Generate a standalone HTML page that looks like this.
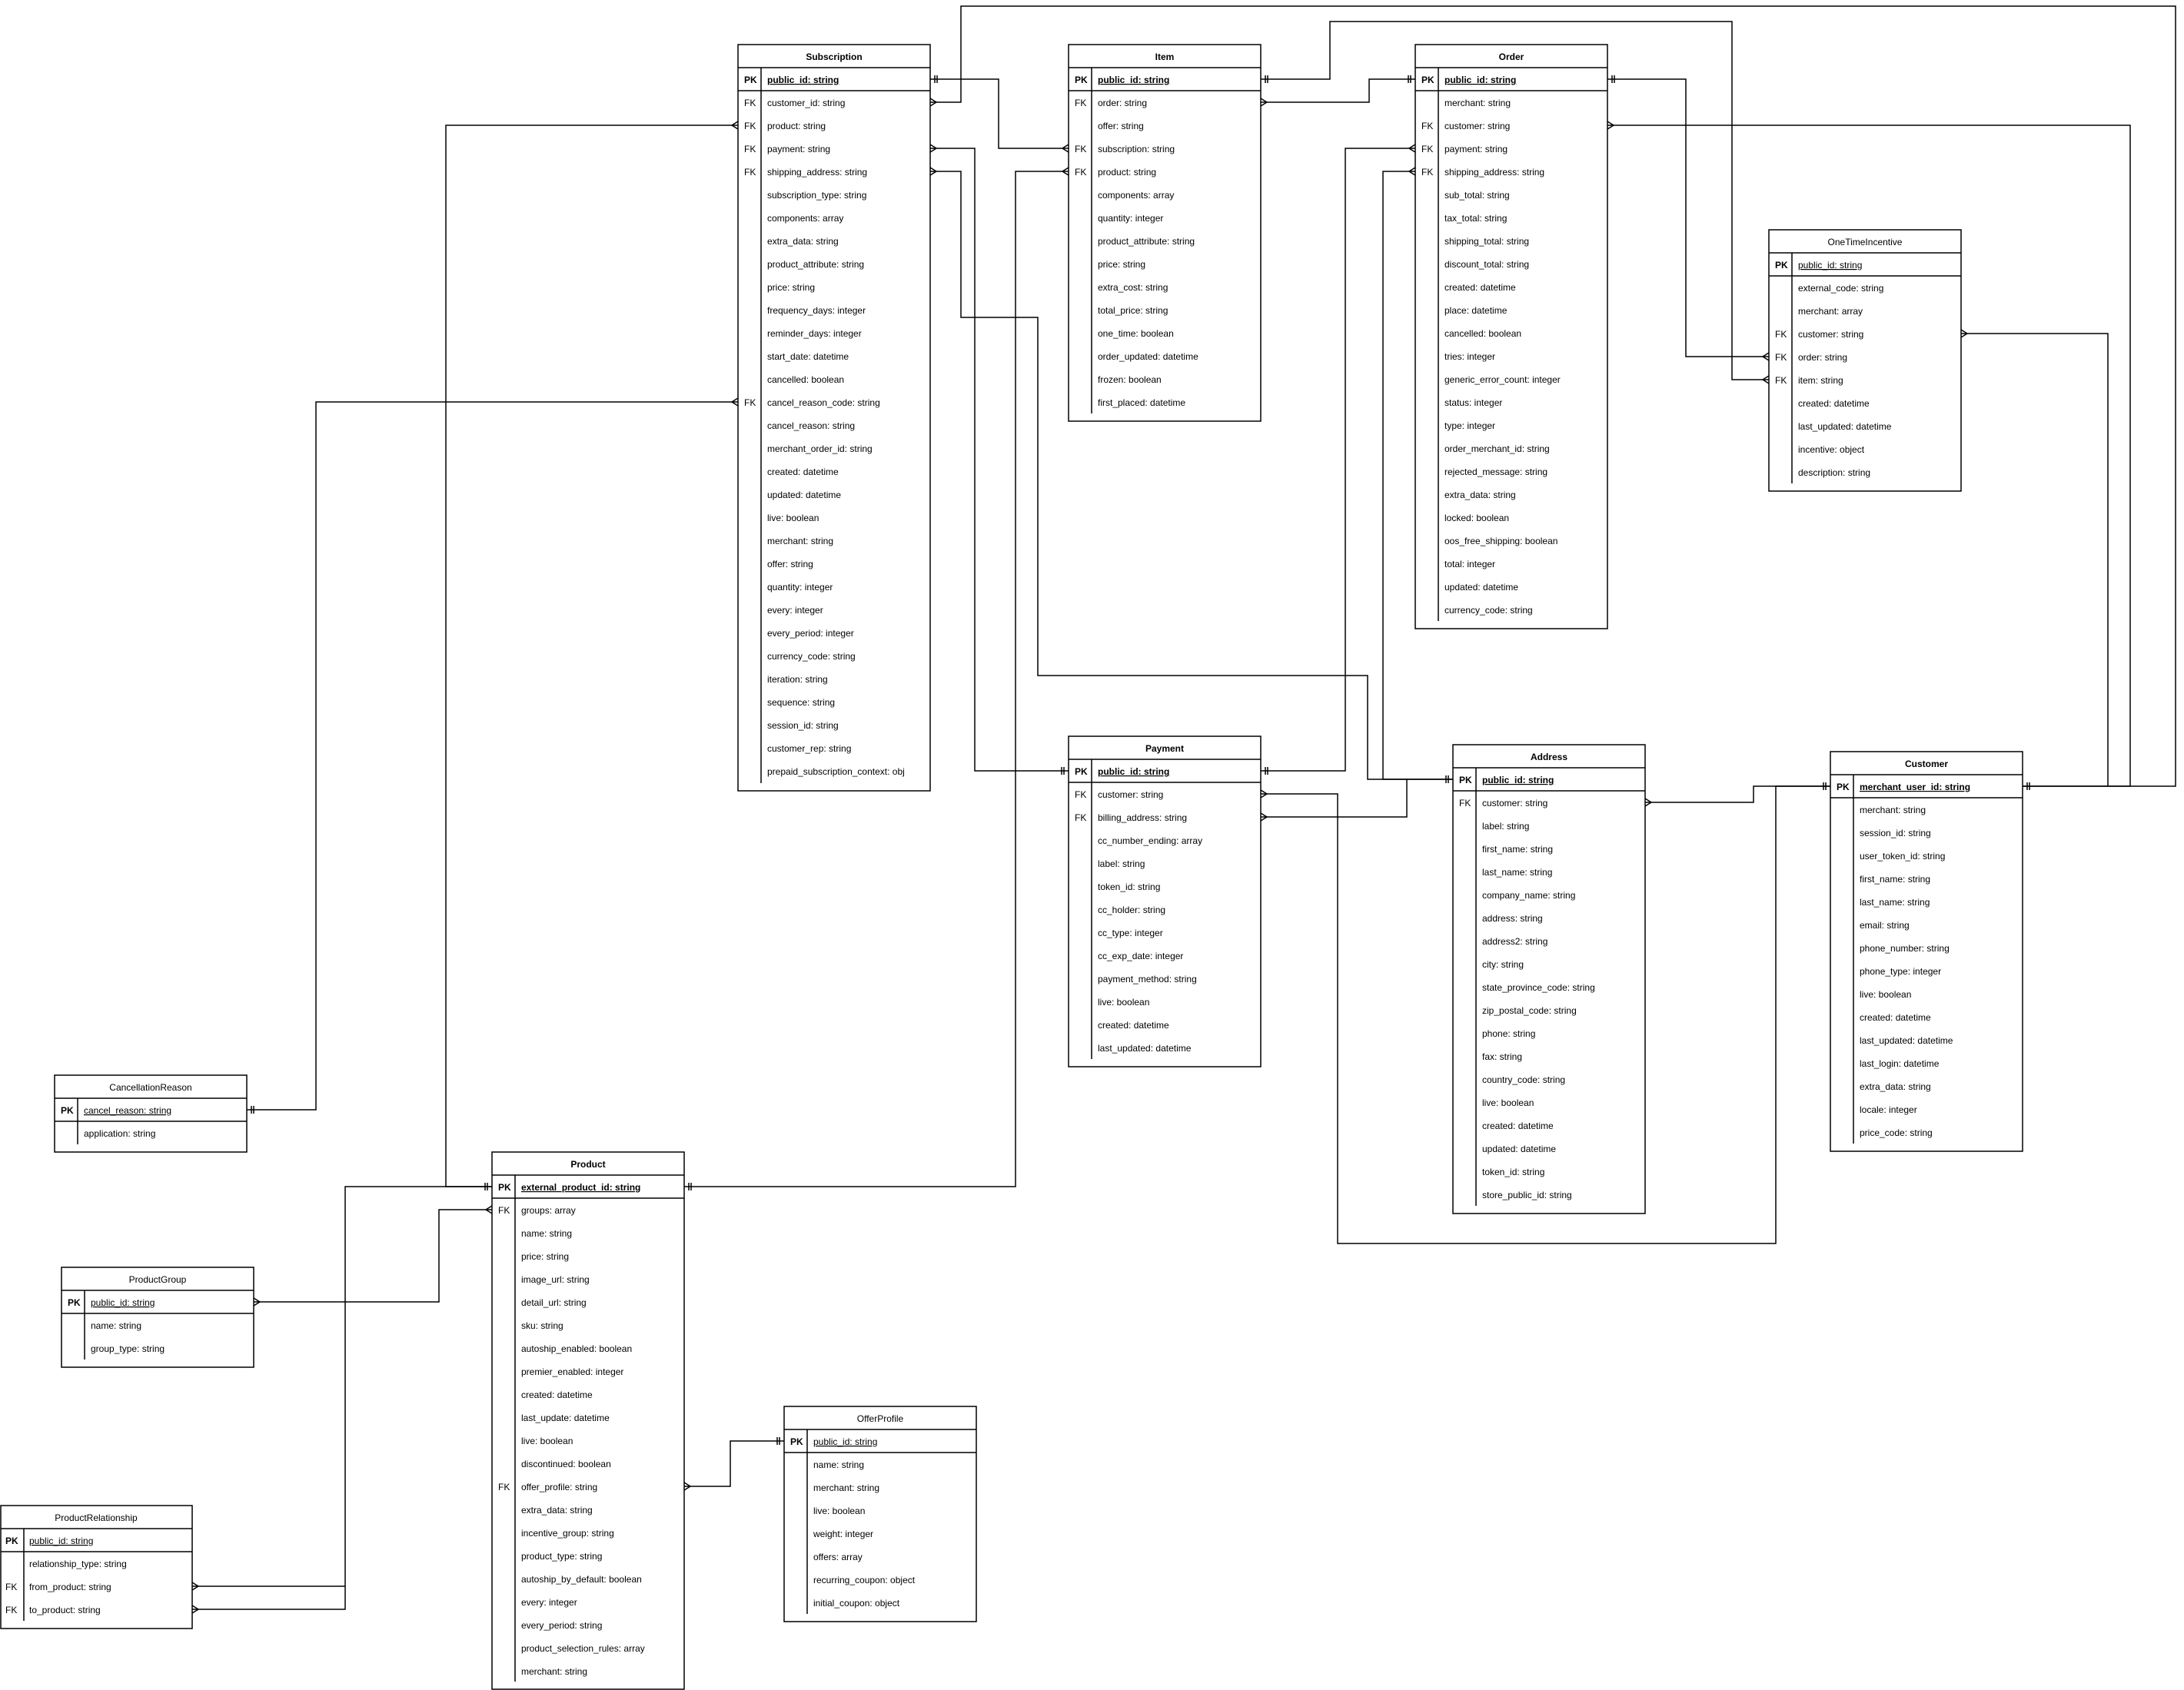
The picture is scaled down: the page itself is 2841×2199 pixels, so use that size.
<!DOCTYPE html>
<html><head><meta charset="utf-8"><style>
html,body{margin:0;padding:0;background:#fff;}
svg{display:block;}
text{font-family:"Liberation Sans",sans-serif;font-size:12px;fill:#000;}
.b{font-weight:bold;}
.t{text-anchor:middle;}
</style></head><body>
<svg width="2841" height="2199" viewBox="0 0 2841 2199" xmlns="http://www.w3.org/2000/svg">
<g fill="none" stroke="#000" stroke-width="1.5">
<!-- connectors -->
<path d="M1210,133 H1250 V8 H2830 V1023 H2631"/>
<path d="M1210,103 H1299 V193 H1390"/>
<path d="M1210,193 H1268 V1003 H1390"/>
<path d="M1210,223 H1250 V413 H1350 V879 H1779 V1014 H1890"/>
<path d="M960,163 H580 V1544 H640"/>
<path d="M960,523 H411 V1444 H321"/>
<path d="M1640,133 H1781 V103 H1841"/>
<path d="M1640,103 H1730 V28 H2253 V494 H2301"/>
<path d="M1390,223 H1321 V1544 H890"/>
<path d="M1841,193 H1750 V1003 H1640"/>
<path d="M1841,223 H1799 V1014 H1890"/>
<path d="M2091,103 H2193 V464 H2301"/>
<path d="M2091,163 H2771 V1023 H2631"/>
<path d="M2551,434 H2742 V1023"/>
<path d="M1640,1033 H1740 V1618 H2310 V1023 H2381"/>
<path d="M2140,1044 H2281 V1023 H2381"/>
<path d="M1640,1063 H1830 V1014"/>
<path d="M330,1694 H571 V1574 H640"/>
<path d="M890,1934 H950 V1875 H1020"/>
<path d="M250,2064 H449"/>
<path d="M250,2094 H449 V1544 H640"/>
<!-- crow's feet: right edge (opens right) -->
<path d="M1210,128 L1218,133 L1210,138 M1210,188 L1218,193 L1210,198 M1210,218 L1218,223 L1210,228 M1640,128 L1648,133 L1640,138 M2091,158 L2099,163 L2091,168 M2551,429 L2559,434 L2551,439 M1640,1028 L1648,1033 L1640,1038 M1640,1058 L1648,1063 L1640,1068 M2140,1039 L2148,1044 L2140,1049 M330,1689 L338,1694 L330,1699 M890,1929 L898,1934 L890,1939 M250,2059 L258,2064 L250,2069 M250,2089 L258,2094 L250,2099"/>
<!-- crow's feet: left edge -->
<path d="M960,158 L952,163 L960,168 M960,518 L952,523 L960,528 M1390,188 L1382,193 L1390,198 M1390,218 L1382,223 L1390,228 M1841,188 L1833,193 L1841,198 M1841,218 L1833,223 L1841,228 M2301,459 L2293,464 L2301,469 M2301,489 L2293,494 L2301,499 M640,1569 L632,1574 L640,1579"/>
<!-- one-mandatory ticks -->
<path d="M1216,98 V108 M1219,98 V108 M1384,998 V1008 M1381,998 V1008 M1884,1009 V1019 M1881,1009 V1019 M634,1539 V1549 M631,1539 V1549 M327,1439 V1449 M330,1439 V1449 M1835,98 V108 M1832,98 V108 M1646,98 V108 M1649,98 V108 M896,1539 V1549 M899,1539 V1549 M1646,998 V1008 M1649,998 V1008 M2097,98 V108 M2100,98 V108 M2637,1018 V1028 M2640,1018 V1028 M2375,1018 V1028 M2372,1018 V1028 M1014,1870 V1880 M1011,1870 V1880"/>
</g>

<g fill="#fff" stroke="#000" stroke-width="1.5">
<rect x="960" y="58" width="250" height="971"/>
<rect x="1390" y="58" width="250" height="490"/>
<rect x="1841" y="58" width="250" height="760"/>
<rect x="2301" y="299" width="250" height="340"/>
<rect x="1390" y="958" width="250" height="430"/>
<rect x="1890" y="969" width="250" height="610"/>
<rect x="2381" y="978" width="250" height="520"/>
<rect x="71" y="1399" width="250" height="100"/>
<rect x="640" y="1499" width="250" height="699"/>
<rect x="80" y="1649" width="250" height="130"/>
<rect x="1" y="1959" width="249" height="160"/>
<rect x="1020" y="1830" width="250" height="280"/>
</g>
<g fill="none" stroke="#000" stroke-width="1.5">
<path d="M960,88 H1210 M960,118 H1210 M990,88 V1019"/>
<path d="M1390,88 H1640 M1390,118 H1640 M1420,88 V538"/>
<path d="M1841,88 H2091 M1841,118 H2091 M1871,88 V808"/>
<path d="M2301,329 H2551 M2301,359 H2551 M2331,329 V629"/>
<path d="M1390,988 H1640 M1390,1018 H1640 M1420,988 V1378"/>
<path d="M1890,999 H2140 M1890,1029 H2140 M1920,999 V1569"/>
<path d="M2381,1008 H2631 M2381,1038 H2631 M2411,1008 V1488"/>
<path d="M71,1429 H321 M71,1459 H321 M101,1429 V1489"/>
<path d="M640,1529 H890 M640,1559 H890 M670,1529 V2188"/>
<path d="M80,1679 H330 M80,1709 H330 M110,1679 V1769"/>
<path d="M1,1989 H250 M1,2019 H250 M31,1989 V2109"/>
<path d="M1020,1860 H1270 M1020,1890 H1270 M1050,1860 V2100"/>
</g>

<!-- Subscription -->
<text class="b t" x="1085" y="78">Subscription</text>
<text class="b" x="968" y="108">PK</text><text class="b" x="998" y="108" text-decoration="underline">public_id: string</text>
<text x="968" y="138">FK</text><text x="998" y="138">customer_id: string</text>
<text x="968" y="168">FK</text><text x="998" y="168">product: string</text>
<text x="968" y="198">FK</text><text x="998" y="198">payment: string</text>
<text x="968" y="228">FK</text><text x="998" y="228">shipping_address: string</text>
<text x="998" y="258">subscription_type: string</text>
<text x="998" y="288">components: array</text>
<text x="998" y="318">extra_data: string</text>
<text x="998" y="348">product_attribute: string</text>
<text x="998" y="378">price: string</text>
<text x="998" y="408">frequency_days: integer</text>
<text x="998" y="438">reminder_days: integer</text>
<text x="998" y="468">start_date: datetime</text>
<text x="998" y="498">cancelled: boolean</text>
<text x="968" y="528">FK</text><text x="998" y="528">cancel_reason_code: string</text>
<text x="998" y="558">cancel_reason: string</text>
<text x="998" y="588">merchant_order_id: string</text>
<text x="998" y="618">created: datetime</text>
<text x="998" y="648">updated: datetime</text>
<text x="998" y="678">live: boolean</text>
<text x="998" y="708">merchant: string</text>
<text x="998" y="738">offer: string</text>
<text x="998" y="768">quantity: integer</text>
<text x="998" y="798">every: integer</text>
<text x="998" y="828">every_period: integer</text>
<text x="998" y="858">currency_code: string</text>
<text x="998" y="888">iteration: string</text>
<text x="998" y="918">sequence: string</text>
<text x="998" y="948">session_id: string</text>
<text x="998" y="978">customer_rep: string</text>
<text x="998" y="1008">prepaid_subscription_context: obj</text>

<!-- Item -->
<text class="b t" x="1515" y="78">Item</text>
<text class="b" x="1398" y="108">PK</text><text class="b" x="1428" y="108" text-decoration="underline">public_id: string</text>
<text x="1398" y="138">FK</text><text x="1428" y="138">order: string</text>
<text x="1428" y="168">offer: string</text>
<text x="1398" y="198">FK</text><text x="1428" y="198">subscription: string</text>
<text x="1398" y="228">FK</text><text x="1428" y="228">product: string</text>
<text x="1428" y="258">components: array</text>
<text x="1428" y="288">quantity: integer</text>
<text x="1428" y="318">product_attribute: string</text>
<text x="1428" y="348">price: string</text>
<text x="1428" y="378">extra_cost: string</text>
<text x="1428" y="408">total_price: string</text>
<text x="1428" y="438">one_time: boolean</text>
<text x="1428" y="468">order_updated: datetime</text>
<text x="1428" y="498">frozen: boolean</text>
<text x="1428" y="528">first_placed: datetime</text>

<!-- Order -->
<text class="b t" x="1966" y="78">Order</text>
<text class="b" x="1849" y="108">PK</text><text class="b" x="1879" y="108" text-decoration="underline">public_id: string</text>
<text x="1879" y="138">merchant: string</text>
<text x="1849" y="168">FK</text><text x="1879" y="168">customer: string</text>
<text x="1849" y="198">FK</text><text x="1879" y="198">payment: string</text>
<text x="1849" y="228">FK</text><text x="1879" y="228">shipping_address: string</text>
<text x="1879" y="258">sub_total: string</text>
<text x="1879" y="288">tax_total: string</text>
<text x="1879" y="318">shipping_total: string</text>
<text x="1879" y="348">discount_total: string</text>
<text x="1879" y="378">created: datetime</text>
<text x="1879" y="408">place: datetime</text>
<text x="1879" y="438">cancelled: boolean</text>
<text x="1879" y="468">tries: integer</text>
<text x="1879" y="498">generic_error_count: integer</text>
<text x="1879" y="528">status: integer</text>
<text x="1879" y="558">type: integer</text>
<text x="1879" y="588">order_merchant_id: string</text>
<text x="1879" y="618">rejected_message: string</text>
<text x="1879" y="648">extra_data: string</text>
<text x="1879" y="678">locked: boolean</text>
<text x="1879" y="708">oos_free_shipping: boolean</text>
<text x="1879" y="738">total: integer</text>
<text x="1879" y="768">updated: datetime</text>
<text x="1879" y="798">currency_code: string</text>

<!-- OneTimeIncentive -->
<text class="t" x="2426" y="319">OneTimeIncentive</text>
<text class="b" x="2309" y="349">PK</text><text x="2339" y="349" text-decoration="underline">public_id: string</text>
<text x="2339" y="379">external_code: string</text>
<text x="2339" y="409">merchant: array</text>
<text x="2309" y="439">FK</text><text x="2339" y="439">customer: string</text>
<text x="2309" y="469">FK</text><text x="2339" y="469">order: string</text>
<text x="2309" y="499">FK</text><text x="2339" y="499">item: string</text>
<text x="2339" y="529">created: datetime</text>
<text x="2339" y="559">last_updated: datetime</text>
<text x="2339" y="589">incentive: object</text>
<text x="2339" y="619">description: string</text>

<!-- Payment -->
<text class="b t" x="1515" y="978">Payment</text>
<text class="b" x="1398" y="1008">PK</text><text class="b" x="1428" y="1008" text-decoration="underline">public_id: string</text>
<text x="1398" y="1038">FK</text><text x="1428" y="1038">customer: string</text>
<text x="1398" y="1068">FK</text><text x="1428" y="1068">billing_address: string</text>
<text x="1428" y="1098">cc_number_ending: array</text>
<text x="1428" y="1128">label: string</text>
<text x="1428" y="1158">token_id: string</text>
<text x="1428" y="1188">cc_holder: string</text>
<text x="1428" y="1218">cc_type: integer</text>
<text x="1428" y="1248">cc_exp_date: integer</text>
<text x="1428" y="1278">payment_method: string</text>
<text x="1428" y="1308">live: boolean</text>
<text x="1428" y="1338">created: datetime</text>
<text x="1428" y="1368">last_updated: datetime</text>

<!-- Address -->
<text class="b t" x="2015" y="989">Address</text>
<text class="b" x="1898" y="1019">PK</text><text class="b" x="1928" y="1019" text-decoration="underline">public_id: string</text>
<text x="1898" y="1049">FK</text><text x="1928" y="1049">customer: string</text>
<text x="1928" y="1079">label: string</text>
<text x="1928" y="1109">first_name: string</text>
<text x="1928" y="1139">last_name: string</text>
<text x="1928" y="1169">company_name: string</text>
<text x="1928" y="1199">address: string</text>
<text x="1928" y="1229">address2: string</text>
<text x="1928" y="1259">city: string</text>
<text x="1928" y="1289">state_province_code: string</text>
<text x="1928" y="1319">zip_postal_code: string</text>
<text x="1928" y="1349">phone: string</text>
<text x="1928" y="1379">fax: string</text>
<text x="1928" y="1409">country_code: string</text>
<text x="1928" y="1439">live: boolean</text>
<text x="1928" y="1469">created: datetime</text>
<text x="1928" y="1499">updated: datetime</text>
<text x="1928" y="1529">token_id: string</text>
<text x="1928" y="1559">store_public_id: string</text>

<!-- Customer -->
<text class="b t" x="2506" y="998">Customer</text>
<text class="b" x="2389" y="1028">PK</text><text class="b" x="2419" y="1028" text-decoration="underline">merchant_user_id: string</text>
<text x="2419" y="1058">merchant: string</text>
<text x="2419" y="1088">session_id: string</text>
<text x="2419" y="1118">user_token_id: string</text>
<text x="2419" y="1148">first_name: string</text>
<text x="2419" y="1178">last_name: string</text>
<text x="2419" y="1208">email: string</text>
<text x="2419" y="1238">phone_number: string</text>
<text x="2419" y="1268">phone_type: integer</text>
<text x="2419" y="1298">live: boolean</text>
<text x="2419" y="1328">created: datetime</text>
<text x="2419" y="1358">last_updated: datetime</text>
<text x="2419" y="1388">last_login: datetime</text>
<text x="2419" y="1418">extra_data: string</text>
<text x="2419" y="1448">locale: integer</text>
<text x="2419" y="1478">price_code: string</text>

<!-- CancellationReason -->
<text class="t" x="196" y="1419">CancellationReason</text>
<text class="b" x="79" y="1449">PK</text><text x="109" y="1449" text-decoration="underline">cancel_reason: string</text>
<text x="109" y="1479">application: string</text>

<!-- Product -->
<text class="b t" x="765" y="1519">Product</text>
<text class="b" x="648" y="1549">PK</text><text class="b" x="678" y="1549" text-decoration="underline">external_product_id: string</text>
<text x="648" y="1579">FK</text><text x="678" y="1579">groups: array</text>
<text x="678" y="1609">name: string</text>
<text x="678" y="1639">price: string</text>
<text x="678" y="1669">image_url: string</text>
<text x="678" y="1699">detail_url: string</text>
<text x="678" y="1729">sku: string</text>
<text x="678" y="1759">autoship_enabled: boolean</text>
<text x="678" y="1789">premier_enabled: integer</text>
<text x="678" y="1819">created: datetime</text>
<text x="678" y="1849">last_update: datetime</text>
<text x="678" y="1879">live: boolean</text>
<text x="678" y="1909">discontinued: boolean</text>
<text x="648" y="1939">FK</text><text x="678" y="1939">offer_profile: string</text>
<text x="678" y="1969">extra_data: string</text>
<text x="678" y="1999">incentive_group: string</text>
<text x="678" y="2029">product_type: string</text>
<text x="678" y="2059">autoship_by_default: boolean</text>
<text x="678" y="2089">every: integer</text>
<text x="678" y="2119">every_period: string</text>
<text x="678" y="2149">product_selection_rules: array</text>
<text x="678" y="2179">merchant: string</text>

<!-- ProductGroup -->
<text class="t" x="205" y="1669">ProductGroup</text>
<text class="b" x="88" y="1699">PK</text><text x="118" y="1699" text-decoration="underline">public_id: string</text>
<text x="118" y="1729">name: string</text>
<text x="118" y="1759">group_type: string</text>

<!-- ProductRelationship -->
<text class="t" x="125" y="1979">ProductRelationship</text>
<text class="b" x="7" y="2009">PK</text><text x="38" y="2009" text-decoration="underline">public_id: string</text>
<text x="38" y="2039">relationship_type: string</text>
<text x="7" y="2069">FK</text><text x="38" y="2069">from_product: string</text>
<text x="7" y="2099">FK</text><text x="38" y="2099">to_product: string</text>

<!-- OfferProfile -->
<text class="t" x="1145" y="1850">OfferProfile</text>
<text class="b" x="1028" y="1880">PK</text><text x="1058" y="1880" text-decoration="underline">public_id: string</text>
<text x="1058" y="1910">name: string</text>
<text x="1058" y="1940">merchant: string</text>
<text x="1058" y="1970">live: boolean</text>
<text x="1058" y="2000">weight: integer</text>
<text x="1058" y="2030">offers: array</text>
<text x="1058" y="2060">recurring_coupon: object</text>
<text x="1058" y="2090">initial_coupon: object</text>
</svg>
</body></html>
